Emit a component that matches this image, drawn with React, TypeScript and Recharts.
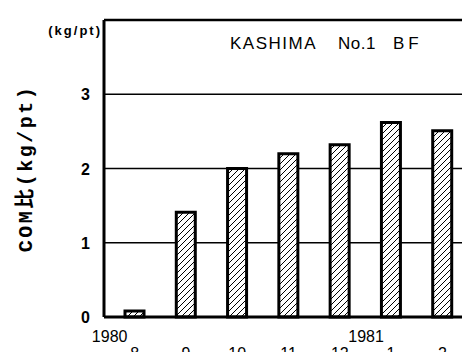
import React from "react"
import { BarChart, Bar, XAxis, YAxis, CartesianGrid, ReferenceLine } from "recharts"

// monthly COM ratio, Aug 1980 - Feb 1981
const months = ["8", "9", "10", "11", "12", "1", "2"]
const years = ["1980", "", "", "", "", "1981", ""]
const comRatio = [0.08, 1.41, 2.0, 2.2, 2.32, 2.62, 2.51]
const yTicks = [0, 1, 2, 3, 4]

const data = months.map((m, i) => ({ month: m, value: comRatio[i] }))

const font = "'Liberation Sans', Arial, sans-serif"

const MonthTick = (props: any) => {
  const { x, y, payload, index } = props
  const year = years[index]
  return (
    <g>
      {year && (
        <text x={x - 25} y={y + 23} textAnchor="middle" fontFamily={font} fontSize={16} fill="#000">
          {year}
        </text>
      )}
      <text x={x} y={y + 40} textAnchor="middle" fontFamily={font} fontSize={16} fill="#000">
        {payload.value}
      </text>
    </g>
  )
}

const ValueTick = (props: any) => {
  const { x, y, payload } = props
  if (payload.value === 4) {
    return (
      <text x={x + 12} y={y + 15} textAnchor="end" fontFamily={font} fontSize={13} fontWeight="bold" letterSpacing={2} fill="#000">
        (kg/pt)
      </text>
    )
  }
  return (
    <text x={x} y={y + 6} textAnchor="end" fontFamily={font} fontSize={16} fontWeight="bold" fill="#000">
      {payload.value}
    </text>
  )
}

export default function App() {
  return (
    <div style={{ position: "fixed", left: 0, top: 0, width: 462, height: 352, overflow: "hidden", background: "#fff" }}>
      <BarChart width={480} height={361} data={data} margin={{ top: 20, right: 6, bottom: 0, left: 0 }}>
        <defs>
          <pattern id="hatch" patternUnits="userSpaceOnUse" width={6} height={6}>
            <rect width={6} height={6} fill="#fff" />
            <path d="M-1,1 l2,-2 M0,6 l6,-6 M5,7 l2,-2" stroke="#000" strokeWidth={1} />
          </pattern>
        </defs>
        <CartesianGrid vertical={false} stroke="#000" strokeWidth={1.3} />
        <ReferenceLine y={4} stroke="#000" strokeWidth={2.5} />
        <XAxis
          dataKey="month"
          height={44}
          padding={{ left: 5, right: 6 }}
          tickLine={false}
          tickSize={0}
          axisLine={{ stroke: "#000", strokeWidth: 3 }}
          tick={<MonthTick />}
          interval={0}
        />
        <YAxis
          width={104}
          domain={[0, 4]}
          ticks={yTicks}
          tickLine={false}
          tickSize={0}
          tickMargin={14}
          axisLine={{ stroke: "#000", strokeWidth: 3 }}
          tick={<ValueTick />}
          label={{
            value: "COM比(kg/pt)",
            angle: -90,
            position: "insideLeft",
            offset: 25,
            style: { textAnchor: "middle", fontFamily: "'Liberation Mono', 'Noto Sans CJK JP', monospace", fontWeight: "bold", fontSize: 20, letterSpacing: 2.5, fill: "#000" },
          }}
        />
        <Bar dataKey="value" barSize={19} fill="url(#hatch)" stroke="#000" strokeWidth={3} isAnimationActive={false} />
      </BarChart>
      <div style={{ position: "absolute", left: 230, top: 34, fontFamily: font, fontSize: 17, letterSpacing: 1.5, color: "#000", whiteSpace: "pre" }}>
        KASHIMA
      </div>
      <div style={{ position: "absolute", left: 338, top: 34, fontFamily: font, fontSize: 17, letterSpacing: 0.5, color: "#000", whiteSpace: "pre" }}>
        No.1
      </div>
      <div style={{ position: "absolute", left: 393, top: 34, fontFamily: font, fontSize: 17, letterSpacing: 4, color: "#000", whiteSpace: "pre" }}>
        BF
      </div>
    </div>
  )
}
